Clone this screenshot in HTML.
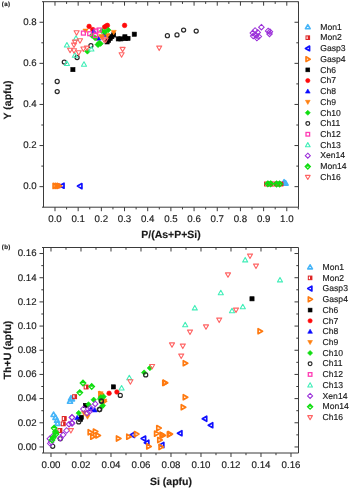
<!DOCTYPE html><html><head><meta charset="utf-8"><style>
html,body{margin:0;padding:0;background:#fff;width:350px;height:489px;overflow:hidden}
svg{display:block}
text{font-family:"Liberation Sans",sans-serif;fill:#1a1a1a;filter:grayscale(1);text-rendering:geometricPrecision;stroke:#1a1a1a;stroke-width:0.15px}
.t{font-size:9.7px}
.lg{font-size:8.6px}
.ti{font-size:10.5px;font-weight:bold}
.pl{font-size:6.2px;font-weight:bold;letter-spacing:0.3px}
</style></head><body>
<svg width="350" height="489" viewBox="0 0 350 489">
<path d="M42.0,1.7H298.5V207.2H42.0M43.5,1.7V207.2" fill="none" stroke="#3a3a3a" stroke-width="1"/><line x1="54.99" y1="207.2" x2="54.99" y2="211.2" stroke="#3a3a3a" stroke-width="1"/><line x1="54.99" y1="1.7" x2="54.99" y2="5.7" stroke="#3a3a3a" stroke-width="1"/><line x1="78.17" y1="207.2" x2="78.17" y2="211.2" stroke="#3a3a3a" stroke-width="1"/><line x1="78.17" y1="1.7" x2="78.17" y2="5.7" stroke="#3a3a3a" stroke-width="1"/><line x1="101.35" y1="207.2" x2="101.35" y2="211.2" stroke="#3a3a3a" stroke-width="1"/><line x1="101.35" y1="1.7" x2="101.35" y2="5.7" stroke="#3a3a3a" stroke-width="1"/><line x1="124.53" y1="207.2" x2="124.53" y2="211.2" stroke="#3a3a3a" stroke-width="1"/><line x1="124.53" y1="1.7" x2="124.53" y2="5.7" stroke="#3a3a3a" stroke-width="1"/><line x1="147.71" y1="207.2" x2="147.71" y2="211.2" stroke="#3a3a3a" stroke-width="1"/><line x1="147.71" y1="1.7" x2="147.71" y2="5.7" stroke="#3a3a3a" stroke-width="1"/><line x1="170.89" y1="207.2" x2="170.89" y2="211.2" stroke="#3a3a3a" stroke-width="1"/><line x1="170.89" y1="1.7" x2="170.89" y2="5.7" stroke="#3a3a3a" stroke-width="1"/><line x1="194.07" y1="207.2" x2="194.07" y2="211.2" stroke="#3a3a3a" stroke-width="1"/><line x1="194.07" y1="1.7" x2="194.07" y2="5.7" stroke="#3a3a3a" stroke-width="1"/><line x1="217.25" y1="207.2" x2="217.25" y2="211.2" stroke="#3a3a3a" stroke-width="1"/><line x1="217.25" y1="1.7" x2="217.25" y2="5.7" stroke="#3a3a3a" stroke-width="1"/><line x1="240.43" y1="207.2" x2="240.43" y2="211.2" stroke="#3a3a3a" stroke-width="1"/><line x1="240.43" y1="1.7" x2="240.43" y2="5.7" stroke="#3a3a3a" stroke-width="1"/><line x1="263.61" y1="207.2" x2="263.61" y2="211.2" stroke="#3a3a3a" stroke-width="1"/><line x1="263.61" y1="1.7" x2="263.61" y2="5.7" stroke="#3a3a3a" stroke-width="1"/><line x1="286.79" y1="207.2" x2="286.79" y2="211.2" stroke="#3a3a3a" stroke-width="1"/><line x1="286.79" y1="1.7" x2="286.79" y2="5.7" stroke="#3a3a3a" stroke-width="1"/><line x1="66.58" y1="207.2" x2="66.58" y2="209.39999999999998" stroke="#3a3a3a" stroke-width="1"/><line x1="66.58" y1="1.7" x2="66.58" y2="3.9000000000000004" stroke="#3a3a3a" stroke-width="1"/><line x1="89.76" y1="207.2" x2="89.76" y2="209.39999999999998" stroke="#3a3a3a" stroke-width="1"/><line x1="89.76" y1="1.7" x2="89.76" y2="3.9000000000000004" stroke="#3a3a3a" stroke-width="1"/><line x1="112.94" y1="207.2" x2="112.94" y2="209.39999999999998" stroke="#3a3a3a" stroke-width="1"/><line x1="112.94" y1="1.7" x2="112.94" y2="3.9000000000000004" stroke="#3a3a3a" stroke-width="1"/><line x1="136.12" y1="207.2" x2="136.12" y2="209.39999999999998" stroke="#3a3a3a" stroke-width="1"/><line x1="136.12" y1="1.7" x2="136.12" y2="3.9000000000000004" stroke="#3a3a3a" stroke-width="1"/><line x1="159.30" y1="207.2" x2="159.30" y2="209.39999999999998" stroke="#3a3a3a" stroke-width="1"/><line x1="159.30" y1="1.7" x2="159.30" y2="3.9000000000000004" stroke="#3a3a3a" stroke-width="1"/><line x1="182.48" y1="207.2" x2="182.48" y2="209.39999999999998" stroke="#3a3a3a" stroke-width="1"/><line x1="182.48" y1="1.7" x2="182.48" y2="3.9000000000000004" stroke="#3a3a3a" stroke-width="1"/><line x1="205.66" y1="207.2" x2="205.66" y2="209.39999999999998" stroke="#3a3a3a" stroke-width="1"/><line x1="205.66" y1="1.7" x2="205.66" y2="3.9000000000000004" stroke="#3a3a3a" stroke-width="1"/><line x1="228.84" y1="207.2" x2="228.84" y2="209.39999999999998" stroke="#3a3a3a" stroke-width="1"/><line x1="228.84" y1="1.7" x2="228.84" y2="3.9000000000000004" stroke="#3a3a3a" stroke-width="1"/><line x1="252.02" y1="207.2" x2="252.02" y2="209.39999999999998" stroke="#3a3a3a" stroke-width="1"/><line x1="252.02" y1="1.7" x2="252.02" y2="3.9000000000000004" stroke="#3a3a3a" stroke-width="1"/><line x1="275.20" y1="207.2" x2="275.20" y2="209.39999999999998" stroke="#3a3a3a" stroke-width="1"/><line x1="275.20" y1="1.7" x2="275.20" y2="3.9000000000000004" stroke="#3a3a3a" stroke-width="1"/><line x1="298.38" y1="207.2" x2="298.38" y2="209.39999999999998" stroke="#3a3a3a" stroke-width="1"/><line x1="298.38" y1="1.7" x2="298.38" y2="3.9000000000000004" stroke="#3a3a3a" stroke-width="1"/><line x1="39.5" y1="186.65" x2="43.5" y2="186.65" stroke="#3a3a3a" stroke-width="1"/><line x1="294.5" y1="186.65" x2="298.5" y2="186.65" stroke="#3a3a3a" stroke-width="1"/><line x1="39.5" y1="145.55" x2="43.5" y2="145.55" stroke="#3a3a3a" stroke-width="1"/><line x1="294.5" y1="145.55" x2="298.5" y2="145.55" stroke="#3a3a3a" stroke-width="1"/><line x1="39.5" y1="104.45" x2="43.5" y2="104.45" stroke="#3a3a3a" stroke-width="1"/><line x1="294.5" y1="104.45" x2="298.5" y2="104.45" stroke="#3a3a3a" stroke-width="1"/><line x1="39.5" y1="63.35" x2="43.5" y2="63.35" stroke="#3a3a3a" stroke-width="1"/><line x1="294.5" y1="63.35" x2="298.5" y2="63.35" stroke="#3a3a3a" stroke-width="1"/><line x1="39.5" y1="22.25" x2="43.5" y2="22.25" stroke="#3a3a3a" stroke-width="1"/><line x1="294.5" y1="22.25" x2="298.5" y2="22.25" stroke="#3a3a3a" stroke-width="1"/><line x1="41.3" y1="166.10" x2="43.5" y2="166.10" stroke="#3a3a3a" stroke-width="1"/><line x1="296.3" y1="166.10" x2="298.5" y2="166.10" stroke="#3a3a3a" stroke-width="1"/><line x1="41.3" y1="125.00" x2="43.5" y2="125.00" stroke="#3a3a3a" stroke-width="1"/><line x1="296.3" y1="125.00" x2="298.5" y2="125.00" stroke="#3a3a3a" stroke-width="1"/><line x1="41.3" y1="83.90" x2="43.5" y2="83.90" stroke="#3a3a3a" stroke-width="1"/><line x1="296.3" y1="83.90" x2="298.5" y2="83.90" stroke="#3a3a3a" stroke-width="1"/><line x1="41.3" y1="42.80" x2="43.5" y2="42.80" stroke="#3a3a3a" stroke-width="1"/><line x1="296.3" y1="42.80" x2="298.5" y2="42.80" stroke="#3a3a3a" stroke-width="1"/>
<text class="t" x="54.99" y="221.5" text-anchor="middle">0.0</text>
<text class="t" x="78.17" y="221.5" text-anchor="middle">0.1</text>
<text class="t" x="101.35" y="221.5" text-anchor="middle">0.2</text>
<text class="t" x="124.53" y="221.5" text-anchor="middle">0.3</text>
<text class="t" x="147.71" y="221.5" text-anchor="middle">0.4</text>
<text class="t" x="170.89" y="221.5" text-anchor="middle">0.5</text>
<text class="t" x="194.07" y="221.5" text-anchor="middle">0.6</text>
<text class="t" x="217.25" y="221.5" text-anchor="middle">0.7</text>
<text class="t" x="240.43" y="221.5" text-anchor="middle">0.8</text>
<text class="t" x="263.61" y="221.5" text-anchor="middle">0.9</text>
<text class="t" x="286.79" y="221.5" text-anchor="middle">1.0</text>
<text class="t" x="36.6" y="189.45" text-anchor="end">0.0</text>
<text class="t" x="36.6" y="148.35" text-anchor="end">0.2</text>
<text class="t" x="36.6" y="107.25" text-anchor="end">0.4</text>
<text class="t" x="36.6" y="66.15" text-anchor="end">0.6</text>
<text class="t" x="36.6" y="25.05" text-anchor="end">0.8</text>
<text class="ti" x="171" y="237.6" text-anchor="middle">P/(As+P+Si)</text>
<text class="ti" transform="translate(11.2,100) rotate(-90)" text-anchor="middle">Y (apfu)</text>
<text class="pl" x="1.8" y="5.6">(a)</text>
<path d="M42.0,247.5H298.5V453.0H42.0M43.5,247.5V453.0" fill="none" stroke="#3a3a3a" stroke-width="1"/><line x1="50.99" y1="453.0" x2="50.99" y2="457.0" stroke="#3a3a3a" stroke-width="1"/><line x1="50.99" y1="247.5" x2="50.99" y2="251.5" stroke="#3a3a3a" stroke-width="1"/><line x1="80.99" y1="453.0" x2="80.99" y2="457.0" stroke="#3a3a3a" stroke-width="1"/><line x1="80.99" y1="247.5" x2="80.99" y2="251.5" stroke="#3a3a3a" stroke-width="1"/><line x1="110.99" y1="453.0" x2="110.99" y2="457.0" stroke="#3a3a3a" stroke-width="1"/><line x1="110.99" y1="247.5" x2="110.99" y2="251.5" stroke="#3a3a3a" stroke-width="1"/><line x1="140.99" y1="453.0" x2="140.99" y2="457.0" stroke="#3a3a3a" stroke-width="1"/><line x1="140.99" y1="247.5" x2="140.99" y2="251.5" stroke="#3a3a3a" stroke-width="1"/><line x1="170.99" y1="453.0" x2="170.99" y2="457.0" stroke="#3a3a3a" stroke-width="1"/><line x1="170.99" y1="247.5" x2="170.99" y2="251.5" stroke="#3a3a3a" stroke-width="1"/><line x1="200.99" y1="453.0" x2="200.99" y2="457.0" stroke="#3a3a3a" stroke-width="1"/><line x1="200.99" y1="247.5" x2="200.99" y2="251.5" stroke="#3a3a3a" stroke-width="1"/><line x1="230.99" y1="453.0" x2="230.99" y2="457.0" stroke="#3a3a3a" stroke-width="1"/><line x1="230.99" y1="247.5" x2="230.99" y2="251.5" stroke="#3a3a3a" stroke-width="1"/><line x1="260.99" y1="453.0" x2="260.99" y2="457.0" stroke="#3a3a3a" stroke-width="1"/><line x1="260.99" y1="247.5" x2="260.99" y2="251.5" stroke="#3a3a3a" stroke-width="1"/><line x1="290.99" y1="453.0" x2="290.99" y2="457.0" stroke="#3a3a3a" stroke-width="1"/><line x1="290.99" y1="247.5" x2="290.99" y2="251.5" stroke="#3a3a3a" stroke-width="1"/><line x1="65.99" y1="453.0" x2="65.99" y2="455.2" stroke="#3a3a3a" stroke-width="1"/><line x1="65.99" y1="247.5" x2="65.99" y2="249.7" stroke="#3a3a3a" stroke-width="1"/><line x1="95.99" y1="453.0" x2="95.99" y2="455.2" stroke="#3a3a3a" stroke-width="1"/><line x1="95.99" y1="247.5" x2="95.99" y2="249.7" stroke="#3a3a3a" stroke-width="1"/><line x1="125.99" y1="453.0" x2="125.99" y2="455.2" stroke="#3a3a3a" stroke-width="1"/><line x1="125.99" y1="247.5" x2="125.99" y2="249.7" stroke="#3a3a3a" stroke-width="1"/><line x1="155.99" y1="453.0" x2="155.99" y2="455.2" stroke="#3a3a3a" stroke-width="1"/><line x1="155.99" y1="247.5" x2="155.99" y2="249.7" stroke="#3a3a3a" stroke-width="1"/><line x1="185.99" y1="453.0" x2="185.99" y2="455.2" stroke="#3a3a3a" stroke-width="1"/><line x1="185.99" y1="247.5" x2="185.99" y2="249.7" stroke="#3a3a3a" stroke-width="1"/><line x1="215.99" y1="453.0" x2="215.99" y2="455.2" stroke="#3a3a3a" stroke-width="1"/><line x1="215.99" y1="247.5" x2="215.99" y2="249.7" stroke="#3a3a3a" stroke-width="1"/><line x1="245.99" y1="453.0" x2="245.99" y2="455.2" stroke="#3a3a3a" stroke-width="1"/><line x1="245.99" y1="247.5" x2="245.99" y2="249.7" stroke="#3a3a3a" stroke-width="1"/><line x1="275.99" y1="453.0" x2="275.99" y2="455.2" stroke="#3a3a3a" stroke-width="1"/><line x1="275.99" y1="247.5" x2="275.99" y2="249.7" stroke="#3a3a3a" stroke-width="1"/><line x1="39.5" y1="446.96" x2="43.5" y2="446.96" stroke="#3a3a3a" stroke-width="1"/><line x1="294.5" y1="446.96" x2="298.5" y2="446.96" stroke="#3a3a3a" stroke-width="1"/><line x1="39.5" y1="422.78" x2="43.5" y2="422.78" stroke="#3a3a3a" stroke-width="1"/><line x1="294.5" y1="422.78" x2="298.5" y2="422.78" stroke="#3a3a3a" stroke-width="1"/><line x1="39.5" y1="398.60" x2="43.5" y2="398.60" stroke="#3a3a3a" stroke-width="1"/><line x1="294.5" y1="398.60" x2="298.5" y2="398.60" stroke="#3a3a3a" stroke-width="1"/><line x1="39.5" y1="374.43" x2="43.5" y2="374.43" stroke="#3a3a3a" stroke-width="1"/><line x1="294.5" y1="374.43" x2="298.5" y2="374.43" stroke="#3a3a3a" stroke-width="1"/><line x1="39.5" y1="350.25" x2="43.5" y2="350.25" stroke="#3a3a3a" stroke-width="1"/><line x1="294.5" y1="350.25" x2="298.5" y2="350.25" stroke="#3a3a3a" stroke-width="1"/><line x1="39.5" y1="326.07" x2="43.5" y2="326.07" stroke="#3a3a3a" stroke-width="1"/><line x1="294.5" y1="326.07" x2="298.5" y2="326.07" stroke="#3a3a3a" stroke-width="1"/><line x1="39.5" y1="301.90" x2="43.5" y2="301.90" stroke="#3a3a3a" stroke-width="1"/><line x1="294.5" y1="301.90" x2="298.5" y2="301.90" stroke="#3a3a3a" stroke-width="1"/><line x1="39.5" y1="277.72" x2="43.5" y2="277.72" stroke="#3a3a3a" stroke-width="1"/><line x1="294.5" y1="277.72" x2="298.5" y2="277.72" stroke="#3a3a3a" stroke-width="1"/><line x1="39.5" y1="253.54" x2="43.5" y2="253.54" stroke="#3a3a3a" stroke-width="1"/><line x1="294.5" y1="253.54" x2="298.5" y2="253.54" stroke="#3a3a3a" stroke-width="1"/><line x1="41.3" y1="434.87" x2="43.5" y2="434.87" stroke="#3a3a3a" stroke-width="1"/><line x1="296.3" y1="434.87" x2="298.5" y2="434.87" stroke="#3a3a3a" stroke-width="1"/><line x1="41.3" y1="410.69" x2="43.5" y2="410.69" stroke="#3a3a3a" stroke-width="1"/><line x1="296.3" y1="410.69" x2="298.5" y2="410.69" stroke="#3a3a3a" stroke-width="1"/><line x1="41.3" y1="386.51" x2="43.5" y2="386.51" stroke="#3a3a3a" stroke-width="1"/><line x1="296.3" y1="386.51" x2="298.5" y2="386.51" stroke="#3a3a3a" stroke-width="1"/><line x1="41.3" y1="362.34" x2="43.5" y2="362.34" stroke="#3a3a3a" stroke-width="1"/><line x1="296.3" y1="362.34" x2="298.5" y2="362.34" stroke="#3a3a3a" stroke-width="1"/><line x1="41.3" y1="338.16" x2="43.5" y2="338.16" stroke="#3a3a3a" stroke-width="1"/><line x1="296.3" y1="338.16" x2="298.5" y2="338.16" stroke="#3a3a3a" stroke-width="1"/><line x1="41.3" y1="313.99" x2="43.5" y2="313.99" stroke="#3a3a3a" stroke-width="1"/><line x1="296.3" y1="313.99" x2="298.5" y2="313.99" stroke="#3a3a3a" stroke-width="1"/><line x1="41.3" y1="289.81" x2="43.5" y2="289.81" stroke="#3a3a3a" stroke-width="1"/><line x1="296.3" y1="289.81" x2="298.5" y2="289.81" stroke="#3a3a3a" stroke-width="1"/><line x1="41.3" y1="265.63" x2="43.5" y2="265.63" stroke="#3a3a3a" stroke-width="1"/><line x1="296.3" y1="265.63" x2="298.5" y2="265.63" stroke="#3a3a3a" stroke-width="1"/>
<text class="t" x="50.99" y="467.6" text-anchor="middle">0.00</text>
<text class="t" x="80.99" y="467.6" text-anchor="middle">0.02</text>
<text class="t" x="110.99" y="467.6" text-anchor="middle">0.04</text>
<text class="t" x="140.99" y="467.6" text-anchor="middle">0.06</text>
<text class="t" x="170.99" y="467.6" text-anchor="middle">0.08</text>
<text class="t" x="200.99" y="467.6" text-anchor="middle">0.10</text>
<text class="t" x="230.99" y="467.6" text-anchor="middle">0.12</text>
<text class="t" x="260.99" y="467.6" text-anchor="middle">0.14</text>
<text class="t" x="290.99" y="467.6" text-anchor="middle">0.16</text>
<text class="t" x="36.6" y="449.76" text-anchor="end">0.00</text>
<text class="t" x="36.6" y="425.58" text-anchor="end">0.02</text>
<text class="t" x="36.6" y="401.40" text-anchor="end">0.04</text>
<text class="t" x="36.6" y="377.23" text-anchor="end">0.06</text>
<text class="t" x="36.6" y="353.05" text-anchor="end">0.08</text>
<text class="t" x="36.6" y="328.87" text-anchor="end">0.10</text>
<text class="t" x="36.6" y="304.70" text-anchor="end">0.12</text>
<text class="t" x="36.6" y="280.52" text-anchor="end">0.14</text>
<text class="t" x="36.6" y="256.34" text-anchor="end">0.16</text>
<text class="ti" x="171" y="484.5" text-anchor="middle">Si (apfu)</text>
<text class="ti" transform="translate(11.2,350) rotate(-90)" text-anchor="middle">Th+U (apfu)</text>
<text class="pl" x="1.8" y="248.6">(b)</text>
<polygon points="284.10,179.65 286.65,184.11 281.55,184.11" fill="none" stroke="#45B4F8" stroke-width="1.6" stroke-linejoin="round"/>
<polygon points="285.60,180.65 288.15,185.11 283.05,185.11" fill="none" stroke="#45B4F8" stroke-width="1.6" stroke-linejoin="round"/>
<rect x="56.05" y="183.95" width="3.90" height="3.90" fill="none" stroke="#DD2222" stroke-width="1.0"/><rect x="57.90" y="183.95" width="2.15" height="3.90" fill="#DD2222"/>
<rect x="264.55" y="182.05" width="3.90" height="3.90" fill="none" stroke="#DD2222" stroke-width="1.0"/><rect x="266.40" y="182.05" width="2.15" height="3.90" fill="#DD2222"/>
<rect x="268.05" y="182.05" width="3.90" height="3.90" fill="none" stroke="#DD2222" stroke-width="1.0"/><rect x="269.90" y="182.05" width="2.15" height="3.90" fill="#DD2222"/>
<rect x="272.05" y="182.05" width="3.90" height="3.90" fill="none" stroke="#DD2222" stroke-width="1.0"/><rect x="273.90" y="182.05" width="2.15" height="3.90" fill="#DD2222"/>
<rect x="276.05" y="182.05" width="3.90" height="3.90" fill="none" stroke="#DD2222" stroke-width="1.0"/><rect x="277.90" y="182.05" width="2.15" height="3.90" fill="#DD2222"/>
<rect x="279.05" y="182.05" width="3.90" height="3.90" fill="none" stroke="#DD2222" stroke-width="1.0"/><rect x="280.90" y="182.05" width="2.15" height="3.90" fill="#DD2222"/>
<polygon points="59.55,185.70 64.01,183.15 64.01,188.25" fill="none" stroke="#1010FF" stroke-width="1.7" stroke-linejoin="round"/>
<polygon points="77.45,186.10 81.91,183.55 81.91,188.65" fill="none" stroke="#1010FF" stroke-width="1.7" stroke-linejoin="round"/>
<polygon points="57.55,185.90 53.09,183.35 53.09,188.45" fill="none" stroke="#FF7A10" stroke-width="1.7" stroke-linejoin="round"/>
<polygon points="59.55,185.90 55.09,183.35 55.09,188.45" fill="none" stroke="#FF7A10" stroke-width="1.7" stroke-linejoin="round"/>
<polygon points="61.55,185.90 57.09,183.35 57.09,188.45" fill="none" stroke="#FF7A10" stroke-width="1.7" stroke-linejoin="round"/>
<rect x="70.80" y="67.50" width="4.20" height="4.20" fill="#000000" stroke="#000000" stroke-width="0.6"/>
<rect x="105.00" y="39.80" width="4.20" height="4.20" fill="#000000" stroke="#000000" stroke-width="0.6"/>
<rect x="106.50" y="38.10" width="4.20" height="4.20" fill="#000000" stroke="#000000" stroke-width="0.6"/>
<rect x="108.10" y="36.30" width="4.20" height="4.20" fill="#000000" stroke="#000000" stroke-width="0.6"/>
<rect x="109.70" y="34.50" width="4.20" height="4.20" fill="#000000" stroke="#000000" stroke-width="0.6"/>
<rect x="111.50" y="32.90" width="4.20" height="4.20" fill="#000000" stroke="#000000" stroke-width="0.6"/>
<rect x="116.20" y="36.80" width="4.20" height="4.20" fill="#000000" stroke="#000000" stroke-width="0.6"/>
<rect x="118.70" y="36.80" width="4.20" height="4.20" fill="#000000" stroke="#000000" stroke-width="0.6"/>
<rect x="122.80" y="34.70" width="4.20" height="4.20" fill="#000000" stroke="#000000" stroke-width="0.6"/>
<rect x="123.10" y="36.50" width="4.20" height="4.20" fill="#000000" stroke="#000000" stroke-width="0.6"/>
<rect x="125.90" y="36.30" width="4.20" height="4.20" fill="#000000" stroke="#000000" stroke-width="0.6"/>
<rect x="132.20" y="32.10" width="4.20" height="4.20" fill="#000000" stroke="#000000" stroke-width="0.6"/>
<circle cx="89.10" cy="26.40" r="2.30" fill="#FF0A0A" stroke="#FF0A0A" stroke-width="0.6"/>
<circle cx="104.60" cy="27.10" r="2.30" fill="#FF0A0A" stroke="#FF0A0A" stroke-width="0.6"/>
<circle cx="106.00" cy="26.20" r="2.30" fill="#FF0A0A" stroke="#FF0A0A" stroke-width="0.6"/>
<circle cx="107.40" cy="25.40" r="2.30" fill="#FF0A0A" stroke="#FF0A0A" stroke-width="0.6"/>
<circle cx="124.60" cy="25.40" r="2.30" fill="#FF0A0A" stroke="#FF0A0A" stroke-width="0.6"/>
<circle cx="92.80" cy="29.60" r="2.30" fill="#FF0A0A" stroke="#FF0A0A" stroke-width="0.6"/>
<polygon points="93.70,28.85 96.25,33.31 91.15,33.31" fill="#0A0AFF" stroke="#0A0AFF" stroke-width="0.6" stroke-linejoin="round"/>
<polygon points="98.30,35.75 100.85,40.21 95.75,40.21" fill="#0A0AFF" stroke="#0A0AFF" stroke-width="0.6" stroke-linejoin="round"/>
<polygon points="104.70,31.15 107.25,35.61 102.15,35.61" fill="#0A0AFF" stroke="#0A0AFF" stroke-width="0.6" stroke-linejoin="round"/>
<polygon points="104.60,31.95 107.15,36.41 102.05,36.41" fill="#0A0AFF" stroke="#0A0AFF" stroke-width="0.6" stroke-linejoin="round"/>
<polygon points="85.50,33.55 88.05,29.09 82.95,29.09" fill="#FF8010" stroke="#FF8010" stroke-width="0.6" stroke-linejoin="round"/>
<polygon points="101.10,38.85 103.65,34.39 98.55,34.39" fill="#FF8010" stroke="#FF8010" stroke-width="0.6" stroke-linejoin="round"/>
<polygon points="102.00,39.95 104.55,35.49 99.45,35.49" fill="#FF8010" stroke="#FF8010" stroke-width="0.6" stroke-linejoin="round"/>
<polygon points="107.40,38.05 109.95,33.59 104.85,33.59" fill="#FF8010" stroke="#FF8010" stroke-width="0.6" stroke-linejoin="round"/>
<polygon points="113.70,34.85 116.25,30.39 111.15,30.39" fill="#FF8010" stroke="#FF8010" stroke-width="0.6" stroke-linejoin="round"/>
<polygon points="96.00,40.55 98.55,36.09 93.45,36.09" fill="#FF8010" stroke="#FF8010" stroke-width="0.6" stroke-linejoin="round"/>
<polygon points="97.70,41.85 100.45,44.60 97.70,47.35 94.95,44.60" fill="#10DD10" stroke="#10DD10" stroke-width="0.6"/>
<polygon points="99.20,40.15 101.95,42.90 99.20,45.65 96.45,42.90" fill="#10DD10" stroke="#10DD10" stroke-width="0.6"/>
<polygon points="98.30,41.95 101.05,44.70 98.30,47.45 95.55,44.70" fill="#10DD10" stroke="#10DD10" stroke-width="0.6"/>
<polygon points="87.40,48.65 90.15,51.40 87.40,54.15 84.65,51.40" fill="#10DD10" stroke="#10DD10" stroke-width="0.6"/>
<polygon points="91.90,32.75 94.65,35.50 91.90,38.25 89.15,35.50" fill="#10DD10" stroke="#10DD10" stroke-width="0.6"/>
<polygon points="102.00,28.25 104.75,31.00 102.00,33.75 99.25,31.00" fill="#10DD10" stroke="#10DD10" stroke-width="0.6"/>
<polygon points="108.30,27.25 111.05,30.00 108.30,32.75 105.55,30.00" fill="#10DD10" stroke="#10DD10" stroke-width="0.6"/>
<polygon points="105.00,29.25 107.75,32.00 105.00,34.75 102.25,32.00" fill="#10DD10" stroke="#10DD10" stroke-width="0.6"/>
<polygon points="100.60,40.95 103.35,43.70 100.60,46.45 97.85,43.70" fill="#10DD10" stroke="#10DD10" stroke-width="0.6"/>
<polygon points="95.00,35.25 97.75,38.00 95.00,40.75 92.25,38.00" fill="#10DD10" stroke="#10DD10" stroke-width="0.6"/>
<circle cx="57.20" cy="81.50" r="2.05" fill="none" stroke="#2a2a2a" stroke-width="1.2"/>
<circle cx="57.20" cy="91.60" r="2.05" fill="none" stroke="#2a2a2a" stroke-width="1.2"/>
<circle cx="64.30" cy="62.10" r="2.05" fill="none" stroke="#2a2a2a" stroke-width="1.2"/>
<circle cx="77.10" cy="57.50" r="2.05" fill="none" stroke="#2a2a2a" stroke-width="1.2"/>
<circle cx="90.90" cy="45.70" r="2.05" fill="none" stroke="#2a2a2a" stroke-width="1.2"/>
<circle cx="167.40" cy="35.70" r="2.05" fill="none" stroke="#2a2a2a" stroke-width="1.2"/>
<circle cx="177.00" cy="34.90" r="2.05" fill="none" stroke="#2a2a2a" stroke-width="1.2"/>
<circle cx="183.60" cy="30.10" r="2.05" fill="none" stroke="#2a2a2a" stroke-width="1.2"/>
<circle cx="196.20" cy="31.10" r="2.05" fill="none" stroke="#2a2a2a" stroke-width="1.2"/>
<rect x="81.45" y="31.15" width="3.90" height="3.90" fill="none" stroke="#FF3CB4" stroke-width="1.3"/>
<rect x="87.75" y="31.75" width="3.90" height="3.90" fill="none" stroke="#FF3CB4" stroke-width="1.3"/>
<rect x="93.55" y="33.55" width="3.90" height="3.90" fill="none" stroke="#FF3CB4" stroke-width="1.3"/>
<rect x="94.05" y="29.05" width="3.90" height="3.90" fill="none" stroke="#FF3CB4" stroke-width="1.3"/>
<rect x="97.25" y="28.05" width="3.90" height="3.90" fill="none" stroke="#FF3CB4" stroke-width="1.3"/>
<polygon points="66.90,42.55 69.45,47.01 64.35,47.01" fill="none" stroke="#40EEB8" stroke-width="1.1" stroke-linejoin="round"/>
<polygon points="76.00,35.75 78.55,40.21 73.45,40.21" fill="none" stroke="#40EEB8" stroke-width="1.1" stroke-linejoin="round"/>
<polygon points="66.90,61.05 69.45,65.51 64.35,65.51" fill="none" stroke="#40EEB8" stroke-width="1.1" stroke-linejoin="round"/>
<polygon points="84.00,61.75 86.55,66.21 81.45,66.21" fill="none" stroke="#40EEB8" stroke-width="1.1" stroke-linejoin="round"/>
<polygon points="91.40,46.55 93.95,51.01 88.85,51.01" fill="none" stroke="#40EEB8" stroke-width="1.1" stroke-linejoin="round"/>
<polygon points="74.90,52.85 77.45,57.31 72.35,57.31" fill="none" stroke="#40EEB8" stroke-width="1.1" stroke-linejoin="round"/>
<polygon points="261.40,24.45 264.15,27.20 261.40,29.95 258.65,27.20" fill="none" stroke="#9B30D9" stroke-width="1.05"/>
<polygon points="255.10,27.75 257.85,30.50 255.10,33.25 252.35,30.50" fill="none" stroke="#9B30D9" stroke-width="1.05"/>
<polygon points="257.70,29.65 260.45,32.40 257.70,35.15 254.95,32.40" fill="none" stroke="#9B30D9" stroke-width="1.05"/>
<polygon points="252.80,30.35 255.55,33.10 252.80,35.85 250.05,33.10" fill="none" stroke="#9B30D9" stroke-width="1.05"/>
<polygon points="253.20,33.35 255.95,36.10 253.20,38.85 250.45,36.10" fill="none" stroke="#9B30D9" stroke-width="1.05"/>
<polygon points="256.20,32.65 258.95,35.40 256.20,38.15 253.45,35.40" fill="none" stroke="#9B30D9" stroke-width="1.05"/>
<polygon points="258.80,33.75 261.55,36.50 258.80,39.25 256.05,36.50" fill="none" stroke="#9B30D9" stroke-width="1.05"/>
<polygon points="256.90,35.25 259.65,38.00 256.90,40.75 254.15,38.00" fill="none" stroke="#9B30D9" stroke-width="1.05"/>
<polygon points="268.10,28.15 270.85,30.90 268.10,33.65 265.35,30.90" fill="none" stroke="#9B30D9" stroke-width="1.05"/>
<polygon points="269.90,28.95 272.65,31.70 269.90,34.45 267.15,31.70" fill="none" stroke="#9B30D9" stroke-width="1.05"/>
<polygon points="269.50,31.15 272.25,33.90 269.50,36.65 266.75,33.90" fill="none" stroke="#9B30D9" stroke-width="1.05"/>
<polygon points="267.80,181.05 270.55,183.80 267.80,186.55 265.05,183.80" fill="none" stroke="#10DD10" stroke-width="1.3"/><polygon points="267.80,181.05 270.55,183.80 270.35,184.00 265.25,184.00 265.05,183.80" fill="#10DD10"/>
<polygon points="270.60,181.05 273.35,183.80 270.60,186.55 267.85,183.80" fill="none" stroke="#10DD10" stroke-width="1.3"/><polygon points="270.60,181.05 273.35,183.80 273.15,184.00 268.05,184.00 267.85,183.80" fill="#10DD10"/>
<polygon points="276.60,181.25 279.35,184.00 276.60,186.75 273.85,184.00" fill="none" stroke="#10DD10" stroke-width="1.3"/><polygon points="276.60,181.25 279.35,184.00 279.15,184.20 274.05,184.20 273.85,184.00" fill="#10DD10"/>
<polygon points="279.60,181.25 282.35,184.00 279.60,186.75 276.85,184.00" fill="none" stroke="#10DD10" stroke-width="1.3"/><polygon points="279.60,181.25 282.35,184.00 282.15,184.20 277.05,184.20 276.85,184.00" fill="#10DD10"/>
<polygon points="76.60,35.15 79.15,30.69 74.05,30.69" fill="none" stroke="#FF6464" stroke-width="1.1" stroke-linejoin="round"/>
<polygon points="80.00,43.25 82.55,38.79 77.45,38.79" fill="none" stroke="#FF6464" stroke-width="1.1" stroke-linejoin="round"/>
<polygon points="74.90,44.55 77.45,40.09 72.35,40.09" fill="none" stroke="#FF6464" stroke-width="1.1" stroke-linejoin="round"/>
<polygon points="74.00,47.55 76.55,43.09 71.45,43.09" fill="none" stroke="#FF6464" stroke-width="1.1" stroke-linejoin="round"/>
<polygon points="70.10,52.65 72.65,48.19 67.55,48.19" fill="none" stroke="#FF6464" stroke-width="1.1" stroke-linejoin="round"/>
<polygon points="74.00,53.15 76.55,48.69 71.45,48.69" fill="none" stroke="#FF6464" stroke-width="1.1" stroke-linejoin="round"/>
<polygon points="78.70,55.25 81.25,50.79 76.15,50.79" fill="none" stroke="#FF6464" stroke-width="1.1" stroke-linejoin="round"/>
<polygon points="83.40,51.45 85.95,46.99 80.85,46.99" fill="none" stroke="#FF6464" stroke-width="1.1" stroke-linejoin="round"/>
<polygon points="86.90,50.55 89.45,46.09 84.35,46.09" fill="none" stroke="#FF6464" stroke-width="1.1" stroke-linejoin="round"/>
<polygon points="104.00,42.25 106.55,37.79 101.45,37.79" fill="none" stroke="#FF6464" stroke-width="1.1" stroke-linejoin="round"/>
<polygon points="105.60,42.65 108.15,38.19 103.05,38.19" fill="none" stroke="#FF6464" stroke-width="1.1" stroke-linejoin="round"/>
<polygon points="122.60,51.85 125.15,47.39 120.05,47.39" fill="none" stroke="#FF6464" stroke-width="1.1" stroke-linejoin="round"/>
<polygon points="121.60,57.15 124.15,52.69 119.05,52.69" fill="none" stroke="#FF6464" stroke-width="1.1" stroke-linejoin="round"/>
<polygon points="159.20,50.55 161.75,46.09 156.65,46.09" fill="none" stroke="#FF6464" stroke-width="1.1" stroke-linejoin="round"/>
<polygon points="70.00,398.75 72.55,403.21 67.45,403.21" fill="none" stroke="#45B4F8" stroke-width="1.6" stroke-linejoin="round"/>
<polygon points="72.00,396.45 74.55,400.91 69.45,400.91" fill="none" stroke="#45B4F8" stroke-width="1.6" stroke-linejoin="round"/>
<polygon points="71.00,395.65 73.55,400.11 68.45,400.11" fill="none" stroke="#45B4F8" stroke-width="1.6" stroke-linejoin="round"/>
<polygon points="53.60,412.05 56.15,416.51 51.05,416.51" fill="none" stroke="#45B4F8" stroke-width="1.6" stroke-linejoin="round"/>
<polygon points="55.50,414.95 58.05,419.41 52.95,419.41" fill="none" stroke="#45B4F8" stroke-width="1.6" stroke-linejoin="round"/>
<polygon points="57.00,417.85 59.55,422.31 54.45,422.31" fill="none" stroke="#45B4F8" stroke-width="1.6" stroke-linejoin="round"/>
<polygon points="57.50,420.95 60.05,425.41 54.95,425.41" fill="none" stroke="#45B4F8" stroke-width="1.6" stroke-linejoin="round"/>
<rect x="84.15" y="385.05" width="3.90" height="3.90" fill="none" stroke="#DD2222" stroke-width="1.0"/><rect x="86.00" y="385.05" width="2.15" height="3.90" fill="#DD2222"/>
<rect x="72.65" y="394.75" width="3.90" height="3.90" fill="none" stroke="#DD2222" stroke-width="1.0"/><rect x="74.50" y="394.75" width="2.15" height="3.90" fill="#DD2222"/>
<rect x="62.25" y="416.55" width="3.90" height="3.90" fill="none" stroke="#DD2222" stroke-width="1.0"/><rect x="64.10" y="416.55" width="2.15" height="3.90" fill="#DD2222"/>
<rect x="61.25" y="421.85" width="3.90" height="3.90" fill="none" stroke="#DD2222" stroke-width="1.0"/><rect x="63.10" y="421.85" width="2.15" height="3.90" fill="#DD2222"/>
<rect x="57.95" y="428.55" width="3.90" height="3.90" fill="none" stroke="#DD2222" stroke-width="1.0"/><rect x="59.80" y="428.55" width="2.15" height="3.90" fill="#DD2222"/>
<polygon points="130.05,434.90 134.51,432.35 134.51,437.45" fill="none" stroke="#1010FF" stroke-width="1.7" stroke-linejoin="round"/>
<polygon points="141.15,438.60 145.61,436.05 145.61,441.15" fill="none" stroke="#1010FF" stroke-width="1.7" stroke-linejoin="round"/>
<polygon points="144.35,442.70 148.81,440.15 148.81,445.25" fill="none" stroke="#1010FF" stroke-width="1.7" stroke-linejoin="round"/>
<polygon points="159.35,445.00 163.81,442.45 163.81,447.55" fill="none" stroke="#1010FF" stroke-width="1.7" stroke-linejoin="round"/>
<polygon points="202.25,418.80 206.71,416.25 206.71,421.35" fill="none" stroke="#1010FF" stroke-width="1.7" stroke-linejoin="round"/>
<polygon points="208.25,425.20 212.71,422.65 212.71,427.75" fill="none" stroke="#1010FF" stroke-width="1.7" stroke-linejoin="round"/>
<polygon points="177.45,433.20 181.91,430.65 181.91,435.75" fill="none" stroke="#1010FF" stroke-width="1.7" stroke-linejoin="round"/>
<polygon points="167.25,382.90 162.79,380.35 162.79,385.45" fill="none" stroke="#FF7A10" stroke-width="1.7" stroke-linejoin="round"/>
<polygon points="92.65,432.30 88.19,429.75 88.19,434.85" fill="none" stroke="#FF7A10" stroke-width="1.7" stroke-linejoin="round"/>
<polygon points="97.85,431.60 93.39,429.05 93.39,434.15" fill="none" stroke="#FF7A10" stroke-width="1.7" stroke-linejoin="round"/>
<polygon points="95.25,436.70 90.79,434.15 90.79,439.25" fill="none" stroke="#FF7A10" stroke-width="1.7" stroke-linejoin="round"/>
<polygon points="100.45,435.40 95.99,432.85 95.99,437.95" fill="none" stroke="#FF7A10" stroke-width="1.7" stroke-linejoin="round"/>
<polygon points="120.95,438.50 116.49,435.95 116.49,441.05" fill="none" stroke="#FF7A10" stroke-width="1.7" stroke-linejoin="round"/>
<polygon points="131.25,436.70 126.79,434.15 126.79,439.25" fill="none" stroke="#FF7A10" stroke-width="1.7" stroke-linejoin="round"/>
<polygon points="138.95,434.10 134.49,431.55 134.49,436.65" fill="none" stroke="#FF7A10" stroke-width="1.7" stroke-linejoin="round"/>
<polygon points="161.25,428.10 156.79,425.55 156.79,430.65" fill="none" stroke="#FF7A10" stroke-width="1.7" stroke-linejoin="round"/>
<polygon points="159.05,433.60 154.59,431.05 154.59,436.15" fill="none" stroke="#FF7A10" stroke-width="1.7" stroke-linejoin="round"/>
<polygon points="165.45,435.40 160.99,432.85 160.99,437.95" fill="none" stroke="#FF7A10" stroke-width="1.7" stroke-linejoin="round"/>
<polygon points="171.85,434.50 167.39,431.95 167.39,437.05" fill="none" stroke="#FF7A10" stroke-width="1.7" stroke-linejoin="round"/>
<polygon points="162.25,440.00 157.79,437.45 157.79,442.55" fill="none" stroke="#FF7A10" stroke-width="1.7" stroke-linejoin="round"/>
<polygon points="151.25,446.40 146.79,443.85 146.79,448.95" fill="none" stroke="#FF7A10" stroke-width="1.7" stroke-linejoin="round"/>
<polygon points="163.55,446.90 159.09,444.35 159.09,449.45" fill="none" stroke="#FF7A10" stroke-width="1.7" stroke-linejoin="round"/>
<polygon points="262.55,331.20 258.09,328.65 258.09,333.75" fill="none" stroke="#FF7A10" stroke-width="1.7" stroke-linejoin="round"/>
<polygon points="187.75,363.20 183.29,360.65 183.29,365.75" fill="none" stroke="#FF7A10" stroke-width="1.7" stroke-linejoin="round"/>
<polygon points="167.75,382.80 163.29,380.25 163.29,385.35" fill="none" stroke="#FF7A10" stroke-width="1.7" stroke-linejoin="round"/>
<polygon points="187.75,397.20 183.29,394.65 183.29,399.75" fill="none" stroke="#FF7A10" stroke-width="1.7" stroke-linejoin="round"/>
<polygon points="185.75,407.20 181.29,404.65 181.29,409.75" fill="none" stroke="#FF7A10" stroke-width="1.7" stroke-linejoin="round"/>
<polygon points="172.55,434.00 168.09,431.45 168.09,436.55" fill="none" stroke="#FF7A10" stroke-width="1.7" stroke-linejoin="round"/>
<polygon points="164.55,434.80 160.09,432.25 160.09,437.35" fill="none" stroke="#FF7A10" stroke-width="1.7" stroke-linejoin="round"/>
<polygon points="103.45,394.10 98.99,391.55 98.99,396.65" fill="none" stroke="#FF7A10" stroke-width="1.7" stroke-linejoin="round"/>
<polygon points="106.55,401.30 102.09,398.75 102.09,403.85" fill="none" stroke="#FF7A10" stroke-width="1.7" stroke-linejoin="round"/>
<rect x="111.30" y="384.80" width="4.20" height="4.20" fill="#000000" stroke="#000000" stroke-width="0.6"/>
<rect x="249.90" y="296.70" width="4.20" height="4.20" fill="#000000" stroke="#000000" stroke-width="0.6"/>
<rect x="83.30" y="403.30" width="4.20" height="4.20" fill="#000000" stroke="#000000" stroke-width="0.6"/>
<rect x="79.20" y="415.20" width="4.20" height="4.20" fill="#000000" stroke="#000000" stroke-width="0.6"/>
<rect x="78.40" y="417.40" width="4.20" height="4.20" fill="#000000" stroke="#000000" stroke-width="0.6"/>
<circle cx="109.10" cy="393.30" r="2.30" fill="#FF0A0A" stroke="#FF0A0A" stroke-width="0.6"/>
<circle cx="116.90" cy="392.00" r="2.30" fill="#FF0A0A" stroke="#FF0A0A" stroke-width="0.6"/>
<polygon points="77.20,415.25 79.75,419.71 74.65,419.71" fill="#0A0AFF" stroke="#0A0AFF" stroke-width="0.6" stroke-linejoin="round"/>
<polygon points="94.70,407.45 97.25,411.91 92.15,411.91" fill="#0A0AFF" stroke="#0A0AFF" stroke-width="0.6" stroke-linejoin="round"/>
<polygon points="91.00,406.45 93.55,410.91 88.45,410.91" fill="#0A0AFF" stroke="#0A0AFF" stroke-width="0.6" stroke-linejoin="round"/>
<polygon points="87.50,419.25 90.05,414.79 84.95,414.79" fill="#FF8010" stroke="#FF8010" stroke-width="0.6" stroke-linejoin="round"/>
<polygon points="100.60,396.25 103.15,391.79 98.05,391.79" fill="#FF8010" stroke="#FF8010" stroke-width="0.6" stroke-linejoin="round"/>
<polygon points="104.40,403.55 106.95,399.09 101.85,399.09" fill="#FF8010" stroke="#FF8010" stroke-width="0.6" stroke-linejoin="round"/>
<polygon points="84.00,415.55 86.55,411.09 81.45,411.09" fill="#FF8010" stroke="#FF8010" stroke-width="0.6" stroke-linejoin="round"/>
<polygon points="93.70,397.05 96.45,399.80 93.70,402.55 90.95,399.80" fill="#10DD10" stroke="#10DD10" stroke-width="0.6"/>
<polygon points="100.90,394.45 103.65,397.20 100.90,399.95 98.15,397.20" fill="#10DD10" stroke="#10DD10" stroke-width="0.6"/>
<polygon points="88.50,401.65 91.25,404.40 88.50,407.15 85.75,404.40" fill="#10DD10" stroke="#10DD10" stroke-width="0.6"/>
<polygon points="78.70,410.35 81.45,413.10 78.70,415.85 75.95,413.10" fill="#10DD10" stroke="#10DD10" stroke-width="0.6"/>
<polygon points="102.90,402.65 105.65,405.40 102.90,408.15 100.15,405.40" fill="#10DD10" stroke="#10DD10" stroke-width="0.6"/>
<polygon points="103.60,393.95 106.35,396.70 103.60,399.45 100.85,396.70" fill="#10DD10" stroke="#10DD10" stroke-width="0.6"/>
<polygon points="100.10,396.15 102.85,398.90 100.10,401.65 97.35,398.90" fill="#10DD10" stroke="#10DD10" stroke-width="0.6"/>
<polygon points="101.90,403.85 104.65,406.60 101.90,409.35 99.15,406.60" fill="#10DD10" stroke="#10DD10" stroke-width="0.6"/>
<polygon points="144.10,369.85 146.85,372.60 144.10,375.35 141.35,372.60" fill="#10DD10" stroke="#10DD10" stroke-width="0.6"/>
<polygon points="149.90,365.25 152.65,368.00 149.90,370.75 147.15,368.00" fill="#10DD10" stroke="#10DD10" stroke-width="0.6"/>
<circle cx="52.70" cy="446.30" r="2.05" fill="none" stroke="#2a2a2a" stroke-width="1.2"/>
<circle cx="60.30" cy="438.70" r="2.05" fill="none" stroke="#2a2a2a" stroke-width="1.2"/>
<circle cx="78.70" cy="421.90" r="2.05" fill="none" stroke="#2a2a2a" stroke-width="1.2"/>
<circle cx="101.40" cy="401.30" r="2.05" fill="none" stroke="#2a2a2a" stroke-width="1.2"/>
<circle cx="99.30" cy="409.50" r="2.05" fill="none" stroke="#2a2a2a" stroke-width="1.2"/>
<circle cx="120.30" cy="395.40" r="2.05" fill="none" stroke="#2a2a2a" stroke-width="1.2"/>
<circle cx="101.40" cy="401.00" r="2.05" fill="none" stroke="#2a2a2a" stroke-width="1.2"/>
<circle cx="99.70" cy="409.60" r="2.05" fill="none" stroke="#2a2a2a" stroke-width="1.2"/>
<circle cx="145.70" cy="374.90" r="2.05" fill="none" stroke="#2a2a2a" stroke-width="1.2"/>
<polygon points="121.60,385.55 124.15,390.01 119.05,390.01" fill="none" stroke="#40EEB8" stroke-width="1.1" stroke-linejoin="round"/>
<polygon points="129.30,375.25 131.85,379.71 126.75,379.71" fill="none" stroke="#40EEB8" stroke-width="1.1" stroke-linejoin="round"/>
<polygon points="245.20,257.45 247.75,261.91 242.65,261.91" fill="none" stroke="#40EEB8" stroke-width="1.1" stroke-linejoin="round"/>
<polygon points="280.00,277.45 282.55,281.91 277.45,281.91" fill="none" stroke="#40EEB8" stroke-width="1.1" stroke-linejoin="round"/>
<polygon points="220.80,290.25 223.35,294.71 218.25,294.71" fill="none" stroke="#40EEB8" stroke-width="1.1" stroke-linejoin="round"/>
<polygon points="194.80,305.45 197.35,309.91 192.25,309.91" fill="none" stroke="#40EEB8" stroke-width="1.1" stroke-linejoin="round"/>
<polygon points="232.00,308.25 234.55,312.71 229.45,312.71" fill="none" stroke="#40EEB8" stroke-width="1.1" stroke-linejoin="round"/>
<polygon points="242.80,304.25 245.35,308.71 240.25,308.71" fill="none" stroke="#40EEB8" stroke-width="1.1" stroke-linejoin="round"/>
<polygon points="185.20,322.25 187.75,326.71 182.65,326.71" fill="none" stroke="#40EEB8" stroke-width="1.1" stroke-linejoin="round"/>
<polygon points="71.90,414.75 74.65,417.50 71.90,420.25 69.15,417.50" fill="none" stroke="#9B30D9" stroke-width="1.05"/>
<polygon points="71.90,420.05 74.65,422.80 71.90,425.55 69.15,422.80" fill="none" stroke="#9B30D9" stroke-width="1.05"/>
<polygon points="69.00,421.45 71.75,424.20 69.00,426.95 66.25,424.20" fill="none" stroke="#9B30D9" stroke-width="1.05"/>
<polygon points="66.60,427.75 69.35,430.50 66.60,433.25 63.85,430.50" fill="none" stroke="#9B30D9" stroke-width="1.05"/>
<polygon points="63.20,432.05 65.95,434.80 63.20,437.55 60.45,434.80" fill="none" stroke="#9B30D9" stroke-width="1.05"/>
<polygon points="60.30,435.45 63.05,438.20 60.30,440.95 57.55,438.20" fill="none" stroke="#9B30D9" stroke-width="1.05"/>
<polygon points="49.80,435.95 52.55,438.70 49.80,441.45 47.05,438.70" fill="none" stroke="#9B30D9" stroke-width="1.05"/>
<polygon points="51.20,439.25 53.95,442.00 51.20,444.75 48.45,442.00" fill="none" stroke="#9B30D9" stroke-width="1.05"/>
<polygon points="50.30,440.75 53.05,443.50 50.30,446.25 47.55,443.50" fill="none" stroke="#9B30D9" stroke-width="1.05"/>
<polygon points="53.00,433.25 55.75,436.00 53.00,438.75 50.25,436.00" fill="none" stroke="#9B30D9" stroke-width="1.05"/>
<polygon points="83.40,406.25 86.15,409.00 83.40,411.75 80.65,409.00" fill="none" stroke="#9B30D9" stroke-width="1.05"/>
<polygon points="90.60,405.25 93.35,408.00 90.60,410.75 87.85,408.00" fill="none" stroke="#9B30D9" stroke-width="1.05"/>
<polygon points="95.20,401.15 97.95,403.90 95.20,406.65 92.45,403.90" fill="none" stroke="#9B30D9" stroke-width="1.05"/>
<polygon points="87.00,410.35 89.75,413.10 87.00,415.85 84.25,413.10" fill="none" stroke="#9B30D9" stroke-width="1.05"/>
<polygon points="89.50,408.85 92.25,411.60 89.50,414.35 86.75,411.60" fill="none" stroke="#9B30D9" stroke-width="1.05"/>
<polygon points="72.10,414.55 74.85,417.30 72.10,420.05 69.35,417.30" fill="none" stroke="#9B30D9" stroke-width="1.05"/>
<polygon points="72.10,420.65 74.85,423.40 72.10,426.15 69.35,423.40" fill="none" stroke="#9B30D9" stroke-width="1.05"/>
<polygon points="79.80,389.85 82.55,392.60 79.80,395.35 77.05,392.60" fill="none" stroke="#10DD10" stroke-width="1.3"/><polygon points="79.80,389.85 82.55,392.60 82.35,392.80 77.25,392.80 77.05,392.60" fill="#10DD10"/>
<polygon points="83.00,380.25 85.75,383.00 83.00,385.75 80.25,383.00" fill="none" stroke="#10DD10" stroke-width="1.3"/><polygon points="83.00,380.25 85.75,383.00 85.55,383.20 80.45,383.20 80.25,383.00" fill="#10DD10"/>
<polygon points="91.70,383.75 94.45,386.50 91.70,389.25 88.95,386.50" fill="none" stroke="#10DD10" stroke-width="1.3"/><polygon points="91.70,383.75 94.45,386.50 94.25,386.70 89.15,386.70 88.95,386.50" fill="#10DD10"/>
<polygon points="54.10,425.35 56.85,428.10 54.10,430.85 51.35,428.10" fill="none" stroke="#10DD10" stroke-width="1.3"/><polygon points="54.10,425.35 56.85,428.10 56.65,428.30 51.55,428.30 51.35,428.10" fill="#10DD10"/>
<polygon points="55.50,429.15 58.25,431.90 55.50,434.65 52.75,431.90" fill="none" stroke="#10DD10" stroke-width="1.3"/><polygon points="55.50,429.15 58.25,431.90 58.05,432.10 52.95,432.10 52.75,431.90" fill="#10DD10"/>
<polygon points="56.00,431.25 58.75,434.00 56.00,436.75 53.25,434.00" fill="none" stroke="#10DD10" stroke-width="1.3"/><polygon points="56.00,431.25 58.75,434.00 58.55,434.20 53.45,434.20 53.25,434.00" fill="#10DD10"/>
<polygon points="53.10,434.95 55.85,437.70 53.10,440.45 50.35,437.70" fill="none" stroke="#10DD10" stroke-width="1.3"/><polygon points="53.10,434.95 55.85,437.70 55.65,437.90 50.55,437.90 50.35,437.70" fill="#10DD10"/>
<polygon points="52.00,437.25 54.75,440.00 52.00,442.75 49.25,440.00" fill="none" stroke="#10DD10" stroke-width="1.3"/><polygon points="52.00,437.25 54.75,440.00 54.55,440.20 49.45,440.20 49.25,440.00" fill="#10DD10"/>
<polygon points="152.10,368.95 154.65,364.49 149.55,364.49" fill="none" stroke="#FF6464" stroke-width="1.1" stroke-linejoin="round"/>
<polygon points="130.40,384.25 132.95,379.79 127.85,379.79" fill="none" stroke="#FF6464" stroke-width="1.1" stroke-linejoin="round"/>
<polygon points="250.00,258.55 252.55,254.09 247.45,254.09" fill="none" stroke="#FF6464" stroke-width="1.1" stroke-linejoin="round"/>
<polygon points="256.00,268.55 258.55,264.09 253.45,264.09" fill="none" stroke="#FF6464" stroke-width="1.1" stroke-linejoin="round"/>
<polygon points="228.00,277.35 230.55,272.89 225.45,272.89" fill="none" stroke="#FF6464" stroke-width="1.1" stroke-linejoin="round"/>
<polygon points="236.00,312.55 238.55,308.09 233.45,308.09" fill="none" stroke="#FF6464" stroke-width="1.1" stroke-linejoin="round"/>
<polygon points="219.20,322.55 221.75,318.09 216.65,318.09" fill="none" stroke="#FF6464" stroke-width="1.1" stroke-linejoin="round"/>
<polygon points="206.00,329.35 208.55,324.89 203.45,324.89" fill="none" stroke="#FF6464" stroke-width="1.1" stroke-linejoin="round"/>
<polygon points="190.00,334.55 192.55,330.09 187.45,330.09" fill="none" stroke="#FF6464" stroke-width="1.1" stroke-linejoin="round"/>
<polygon points="172.00,347.35 174.55,342.89 169.45,342.89" fill="none" stroke="#FF6464" stroke-width="1.1" stroke-linejoin="round"/>
<polygon points="182.80,348.55 185.35,344.09 180.25,344.09" fill="none" stroke="#FF6464" stroke-width="1.1" stroke-linejoin="round"/>
<polygon points="181.20,358.55 183.75,354.09 178.65,354.09" fill="none" stroke="#FF6464" stroke-width="1.1" stroke-linejoin="round"/>
<polygon points="70.90,433.05 73.45,428.59 68.35,428.59" fill="none" stroke="#FF6464" stroke-width="1.1" stroke-linejoin="round"/>
<polygon points="307.80,24.60 310.15,28.71 305.45,28.71" fill="none" stroke="#45B4F8" stroke-width="1.6" stroke-linejoin="round"/>
<text class="lg" x="320.30" y="29.70">Mon1</text>
<rect x="306.01" y="35.89" width="3.59" height="3.59" fill="none" stroke="#DD2222" stroke-width="1.0"/><rect x="307.70" y="35.89" width="1.97" height="3.59" fill="#DD2222"/>
<text class="lg" x="320.30" y="40.43">Mon2</text>
<polygon points="305.45,48.41 309.56,46.06 309.56,50.76" fill="none" stroke="#1010FF" stroke-width="1.7" stroke-linejoin="round"/>
<text class="lg" x="320.30" y="51.16">Gasp3</text>
<polygon points="310.15,59.14 306.04,56.79 306.04,61.49" fill="none" stroke="#FF7A10" stroke-width="1.7" stroke-linejoin="round"/>
<text class="lg" x="320.30" y="61.89">Gasp4</text>
<rect x="305.87" y="67.94" width="3.86" height="3.86" fill="#000000" stroke="#000000" stroke-width="0.6"/>
<text class="lg" x="320.30" y="72.62">Ch6</text>
<circle cx="307.80" cy="80.60" r="2.12" fill="#FF0A0A" stroke="#FF0A0A" stroke-width="0.6"/>
<text class="lg" x="320.30" y="83.35">Ch7</text>
<polygon points="307.80,88.98 310.15,93.09 305.45,93.09" fill="#0A0AFF" stroke="#0A0AFF" stroke-width="0.6" stroke-linejoin="round"/>
<text class="lg" x="320.30" y="94.08">Ch8</text>
<polygon points="307.80,104.41 310.15,100.30 305.45,100.30" fill="#FF8010" stroke="#FF8010" stroke-width="0.6" stroke-linejoin="round"/>
<text class="lg" x="320.30" y="104.81">Ch9</text>
<polygon points="307.80,110.26 310.33,112.79 307.80,115.32 305.27,112.79" fill="#10DD10" stroke="#10DD10" stroke-width="0.6"/>
<text class="lg" x="320.30" y="115.54">Ch10</text>
<circle cx="307.80" cy="123.52" r="1.89" fill="none" stroke="#2a2a2a" stroke-width="1.2"/>
<text class="lg" x="320.30" y="126.27">Ch11</text>
<rect x="306.01" y="132.46" width="3.59" height="3.59" fill="none" stroke="#FF3CB4" stroke-width="1.3"/>
<text class="lg" x="320.30" y="137.00">Ch12</text>
<polygon points="307.80,142.63 310.15,146.74 305.45,146.74" fill="none" stroke="#40EEB8" stroke-width="1.1" stroke-linejoin="round"/>
<text class="lg" x="320.30" y="147.73">Ch13</text>
<polygon points="307.80,153.18 310.33,155.71 307.80,158.24 305.27,155.71" fill="none" stroke="#9B30D9" stroke-width="1.05"/>
<text class="lg" x="320.30" y="158.46">Xen14</text>
<polygon points="307.80,163.91 310.33,166.44 307.80,168.97 305.27,166.44" fill="none" stroke="#10DD10" stroke-width="1.3"/><polygon points="307.80,163.91 310.33,166.44 310.13,166.64 305.47,166.64 305.27,166.44" fill="#10DD10"/>
<text class="lg" x="320.30" y="169.19">Mon14</text>
<polygon points="307.80,179.52 310.15,175.41 305.45,175.41" fill="none" stroke="#FF6464" stroke-width="1.1" stroke-linejoin="round"/>
<text class="lg" x="320.30" y="179.92">Ch16</text>
<polygon points="310.10,264.80 312.45,268.91 307.75,268.91" fill="none" stroke="#45B4F8" stroke-width="1.6" stroke-linejoin="round"/>
<text class="lg" x="322.60" y="269.90">Mon1</text>
<rect x="308.31" y="276.09" width="3.59" height="3.59" fill="none" stroke="#DD2222" stroke-width="1.0"/><rect x="310.00" y="276.09" width="1.97" height="3.59" fill="#DD2222"/>
<text class="lg" x="322.60" y="280.63">Mon2</text>
<polygon points="307.75,288.61 311.86,286.26 311.86,290.96" fill="none" stroke="#1010FF" stroke-width="1.7" stroke-linejoin="round"/>
<text class="lg" x="322.60" y="291.36">Gasp3</text>
<polygon points="312.45,299.34 308.34,296.99 308.34,301.69" fill="none" stroke="#FF7A10" stroke-width="1.7" stroke-linejoin="round"/>
<text class="lg" x="322.60" y="302.09">Gasp4</text>
<rect x="308.17" y="308.14" width="3.86" height="3.86" fill="#000000" stroke="#000000" stroke-width="0.6"/>
<text class="lg" x="322.60" y="312.82">Ch6</text>
<circle cx="310.10" cy="320.80" r="2.12" fill="#FF0A0A" stroke="#FF0A0A" stroke-width="0.6"/>
<text class="lg" x="322.60" y="323.55">Ch7</text>
<polygon points="310.10,329.18 312.45,333.29 307.75,333.29" fill="#0A0AFF" stroke="#0A0AFF" stroke-width="0.6" stroke-linejoin="round"/>
<text class="lg" x="322.60" y="334.28">Ch8</text>
<polygon points="310.10,344.61 312.45,340.50 307.75,340.50" fill="#FF8010" stroke="#FF8010" stroke-width="0.6" stroke-linejoin="round"/>
<text class="lg" x="322.60" y="345.01">Ch9</text>
<polygon points="310.10,350.46 312.63,352.99 310.10,355.52 307.57,352.99" fill="#10DD10" stroke="#10DD10" stroke-width="0.6"/>
<text class="lg" x="322.60" y="355.74">Ch10</text>
<circle cx="310.10" cy="363.72" r="1.89" fill="none" stroke="#2a2a2a" stroke-width="1.2"/>
<text class="lg" x="322.60" y="366.47">Ch11</text>
<rect x="308.31" y="372.66" width="3.59" height="3.59" fill="none" stroke="#FF3CB4" stroke-width="1.3"/>
<text class="lg" x="322.60" y="377.20">Ch12</text>
<polygon points="310.10,382.83 312.45,386.94 307.75,386.94" fill="none" stroke="#40EEB8" stroke-width="1.1" stroke-linejoin="round"/>
<text class="lg" x="322.60" y="387.93">Ch13</text>
<polygon points="310.10,393.38 312.63,395.91 310.10,398.44 307.57,395.91" fill="none" stroke="#9B30D9" stroke-width="1.05"/>
<text class="lg" x="322.60" y="398.66">Xen14</text>
<polygon points="310.10,404.11 312.63,406.64 310.10,409.17 307.57,406.64" fill="none" stroke="#10DD10" stroke-width="1.3"/><polygon points="310.10,404.11 312.63,406.64 312.43,406.84 307.77,406.84 307.57,406.64" fill="#10DD10"/>
<text class="lg" x="322.60" y="409.39">Mon14</text>
<polygon points="310.10,419.72 312.45,415.61 307.75,415.61" fill="none" stroke="#FF6464" stroke-width="1.1" stroke-linejoin="round"/>
<text class="lg" x="322.60" y="420.12">Ch16</text>
</svg></body></html>
